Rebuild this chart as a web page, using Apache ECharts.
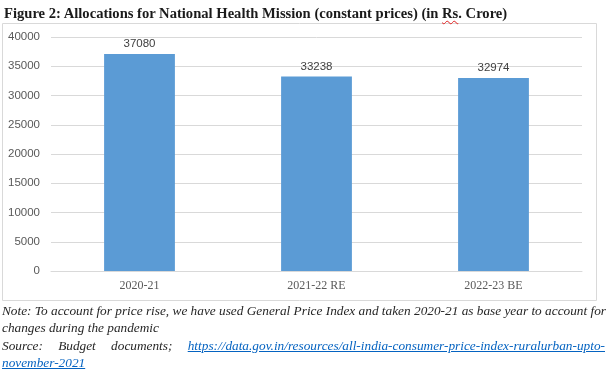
<!DOCTYPE html>
<html><head><meta charset="utf-8">
<script src="https://cdn.jsdelivr.net/npm/echarts@6/dist/echarts.min.js"></script>
<style>
html,body{margin:0;padding:0;background:#fff}
#wrap{position:relative;width:615px;height:381px;overflow:hidden}
#c{position:absolute;left:0;top:0;width:615px;height:381px}
.t{position:absolute;white-space:nowrap;font-family:"Liberation Serif","Times New Roman",serif}
#title{left:4px;top:4px;font-size:14.6px;font-weight:bold;color:#1a1a1a;line-height:18px}
#title .sp{text-decoration:underline wavy #e02020;text-decoration-thickness:1px;text-underline-offset:2px}
.n{left:2px;width:603px;font-size:13.3px;font-style:italic;color:#262626;line-height:17px}
.j{text-align:justify;text-align-last:justify}
.lnk{color:#0563C1;text-decoration:underline}
</style>
</head><body>
<div id="wrap">
<div id="c"></div>
<div class="t" id="title"></div>
<div class="t n j" id="n1" style="top:302px"></div>
<div class="t n" id="n2" style="top:319px"></div>
<div class="t n j" id="n3" style="top:337px"></div>
<div class="t n" id="n4" style="top:354px"></div>
</div>
<script>
var categories = ['2020-21', '2021-22 RE', '2022-23 BE'];
var values = [37080, 33238, 32974];
var titleBefore = 'Figure 2: Allocations for National Health Mission (constant prices) (in ';
var titleMarked = 'Rs';
var titleAfter = '. Crore)';
var noteLine1 = 'Note: To account for price rise, we have used General Price Index and taken 2020-21 as base year to account for';
var noteLine2 = 'changes during the pandemic';
var sourceText = 'Source: Budget documents;';
var linkLine1 = 'https://data.gov.in/resources/all-india-consumer-price-index-ruralurban-upto-';
var linkLine2 = 'november-2021';

function esc(s){return s.replace(/&/g,'&amp;').replace(/</g,'&lt;');}
document.getElementById('title').innerHTML = esc(titleBefore) + '<span class="sp">' + esc(titleMarked) + '</span>' + esc(titleAfter);
document.getElementById('n1').textContent = noteLine1;
document.getElementById('n2').textContent = noteLine2;
document.getElementById('n3').innerHTML = esc(sourceText) + ' <span class="lnk">' + esc(linkLine1) + '</span>';
document.getElementById('n4').innerHTML = '<span class="lnk">' + esc(linkLine2) + '</span>';

var serif = '"Liberation Serif", "Times New Roman", serif';
var sans = '"Liberation Sans", Arial, sans-serif';
var chart = echarts.init(document.getElementById('c'), null, {renderer: 'canvas'});
chart.setOption({
  animation: false,
  grid: {left: 51, right: 33, top: 37, bottom: 110},
  xAxis: {
    type: 'category', data: categories,
    axisLine: {lineStyle: {color: '#d9d9d9'}},
    axisTick: {show: false},
    axisLabel: {fontFamily: serif, fontSize: 12, color: '#595959', margin: 9}
  },
  yAxis: {
    type: 'value', min: 0, max: 40000, interval: 5000,
    axisLine: {show: false}, axisTick: {show: false},
    splitLine: {lineStyle: {color: '#d9d9d9'}},
    axisLabel: {fontFamily: sans, fontSize: 11.5, color: '#595959', margin: 11, formatter: function(v){return String(v);}}
  },
  series: [{
    type: 'bar', data: values, barWidth: '40%',
    itemStyle: {color: '#5b9bd5'},
    label: {show: true, position: 'top', distance: 4, fontFamily: sans, fontSize: 11.5, color: '#404040', formatter: function(p){return String(p.value);}}
  }],
  graphic: [
    {type: 'rect', shape: {x: 2.5, y: 23.5, width: 594, height: 277}, style: {fill: 'none', stroke: '#d9d9d9', lineWidth: 1}, z: -1}
  ]
});
</script></body></html>
